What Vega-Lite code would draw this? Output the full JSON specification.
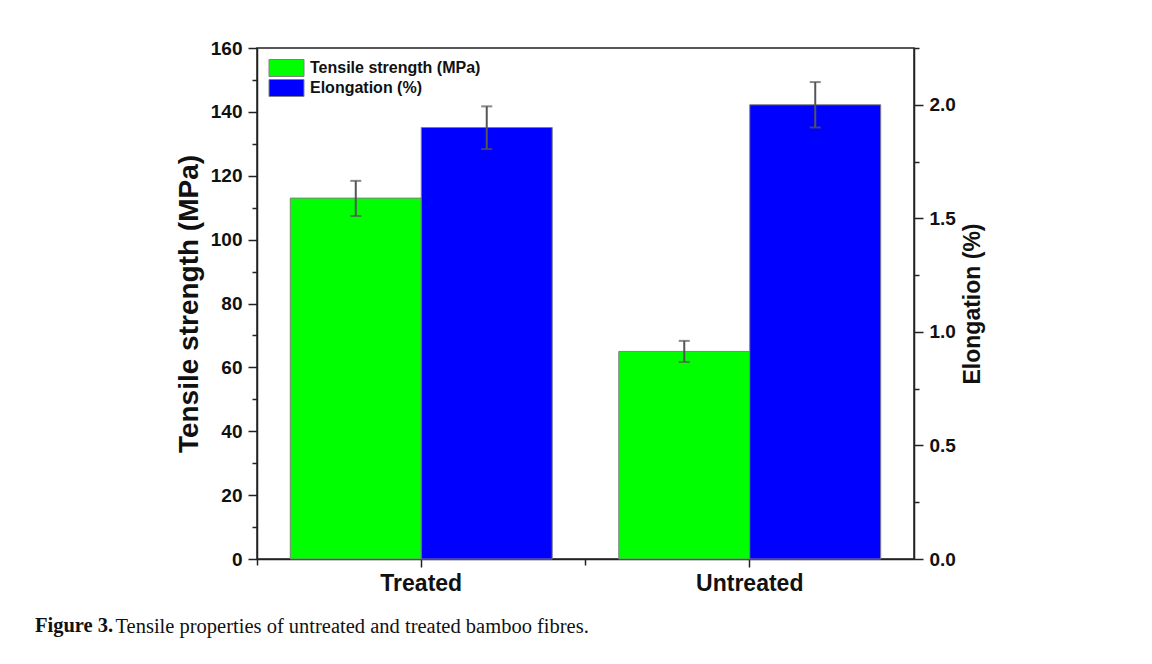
{
  "$schema": "https://vega.github.io/schema/vega-lite/v6.json",
  "width": 657,
  "height": 511,
  "autosize": {"type": "none"},
  "padding": {"left": 257, "top": 48, "right": 238, "bottom": 105},
  "background": "white",
  "config": {
    "view": {"stroke": "#222", "strokeWidth": 1.5},
    "font": "Liberation Sans"
  },
  "title": {
    "text": "Figure 3.",
    "orient": "bottom",
    "anchor": "start",
    "frame": "group",
    "font": "Liberation Serif",
    "fontWeight": "bold",
    "fontSize": 20.5,
    "color": "#111",
    "dx": -222,
    "offset": -5,
    "baseline": "alphabetic"
  },
  "data": {
    "values": [
      {"cat": "Treated", "series": "Tensile strength (MPa)", "value": 113, "lo": 107.4, "hi": 118.4},
      {"cat": "Treated", "series": "Elongation (%)", "value": 1.9, "lo": 1.805, "hi": 1.993},
      {"cat": "Untreated", "series": "Tensile strength (MPa)", "value": 65, "lo": 61.7, "hi": 68.3},
      {"cat": "Untreated", "series": "Elongation (%)", "value": 2.0, "lo": 1.9, "hi": 2.1}
    ]
  },
  "encoding": {
    "x": {
      "field": "cat",
      "type": "nominal",
      "sort": ["Treated", "Untreated"],
      "scale": {"paddingInner": 0, "paddingOuter": 0},
      "axis": {
        "orient": "bottom",
        "labelAngle": 0,
        "labelFont": "Liberation Sans",
        "labelFontWeight": "bold",
        "labelFontSize": 23,
        "labelColor": "#111",
        "labelPadding": 5,
        "tickSize": 8,
        "tickWidth": 1.5,
        "tickColor": "#222",
        "domainColor": "#222",
        "domainWidth": 1.5,
        "grid": false,
        "title": "Tensile properties of untreated and treated bamboo fibres.",
        "titleFont": "Liberation Serif",
        "titleFontWeight": "normal",
        "titleFontSize": 20.5,
        "titleColor": "#111",
        "titleAnchor": "start",
        "titleAlign": "left",
        "titleBaseline": "alphabetic",
        "titleX": -142,
        "titleY": 73
      }
    },
    "xOffset": {
      "field": "series",
      "type": "nominal",
      "scale": {"domain": ["Tensile strength (MPa)", "Elongation (%)"], "paddingInner": 0, "paddingOuter": 0.254}
    }
  },
  "layer": [
    {
      "transform": [{"filter": "datum.series === 'Tensile strength (MPa)'"}],
      "layer": [
        {
          "mark": {"type": "bar", "stroke": "#808080", "strokeWidth": 1},
          "encoding": {
            "y": {
              "field": "value",
              "type": "quantitative",
              "scale": {"domain": [0, 160], "nice": false},
              "axis": {
                "orient": "left",
                "values": [0, 20, 40, 60, 80, 100, 120, 140, 160],
                "tickSize": 9,
                "tickWidth": 1.5,
                "tickColor": "#222",
                "domainColor": "#222",
                "domainWidth": 1.5,
                "labelFont": "Liberation Sans",
                "labelFontWeight": "bold",
                "labelFontSize": 19,
                "labelColor": "#111",
                "labelPadding": 6,
                "title": "Tensile strength (MPa)",
                "titleFont": "Liberation Sans",
                "titleFontWeight": "bold",
                "titleFontSize": 28,
                "titleColor": "#111",
                "titlePadding": 7,
                "grid": false
              }
            },
            "color": {
              "field": "series",
              "type": "nominal",
              "scale": {"domain": ["Tensile strength (MPa)", "Elongation (%)"], "range": ["#00ff00", "#0000ff"]},
              "legend": {
                "orient": "none",
                "legendX": 11.5,
                "legendY": 11,
                "title": null,
                "symbolType": "M-1,-1H3.118V1H-1Z",
                "symbolSize": 289,
                "symbolStrokeColor": "#808080",
                "symbolStrokeWidth": 1,
                "symbolOpacity": 1,
                "labelFont": "Liberation Sans",
                "labelFontWeight": "bold",
                "labelFontSize": 16,
                "labelColor": "#111",
                "labelLimit": 400,
                "labelOffset": 23.5,
                "rowPadding": -2,
                "padding": 0
              }
            }
          }
        },
        {
          "mark": {"type": "rule", "color": "#555", "strokeWidth": 2},
          "encoding": {
            "y": {"field": "lo", "type": "quantitative", "scale": {"domain": [0, 160], "nice": false}},
            "y2": {"field": "hi"}
          }
        },
        {
          "mark": {"type": "tick", "color": "#555", "thickness": 2, "size": 11, "orient": "horizontal"},
          "encoding": {
            "y": {"field": "lo", "type": "quantitative", "scale": {"domain": [0, 160], "nice": false}}
          }
        },
        {
          "mark": {"type": "tick", "color": "#555", "thickness": 2, "size": 11, "orient": "horizontal"},
          "encoding": {
            "y": {"field": "hi", "type": "quantitative", "scale": {"domain": [0, 160], "nice": false}}
          }
        }
      ]
    },
    {
      "transform": [{"filter": "datum.series === 'Elongation (%)'"}],
      "encoding": {
        "x": {"field": "cat", "type": "nominal", "sort": ["Treated", "Untreated"], "axis": null}
      },
      "layer": [
        {
          "mark": {"type": "bar", "stroke": "#808080", "strokeWidth": 1},
          "encoding": {
            "y": {
              "field": "value",
              "type": "quantitative",
              "scale": {"domain": [0, 2.25], "nice": false},
              "axis": {
                "orient": "right",
                "values": [0, 0.5, 1, 1.5, 2],
                "format": ".1f",
                "tickSize": 9,
                "tickWidth": 1.5,
                "tickColor": "#222",
                "domainColor": "#222",
                "domainWidth": 1.5,
                "labelFont": "Liberation Sans",
                "labelFontWeight": "bold",
                "labelFontSize": 19,
                "labelColor": "#111",
                "labelPadding": 6,
                "title": "Elongation (%)",
                "titleFont": "Liberation Sans",
                "titleFontWeight": "bold",
                "titleFontSize": 23,
                "titleColor": "#111",
                "titleAngle": 270,
                "titleBaseline": "top",
                "titlePadding": 6,
                "grid": false
              }
            },
            "color": {
              "field": "series",
              "type": "nominal",
              "scale": {"domain": ["Tensile strength (MPa)", "Elongation (%)"], "range": ["#00ff00", "#0000ff"]}
            }
          }
        },
        {
          "mark": {"type": "rule", "color": "#555", "strokeWidth": 2},
          "encoding": {
            "y": {"field": "lo", "type": "quantitative", "scale": {"domain": [0, 2.25], "nice": false}},
            "y2": {"field": "hi"}
          }
        },
        {
          "mark": {"type": "tick", "color": "#555", "thickness": 2, "size": 11, "orient": "horizontal"},
          "encoding": {
            "y": {"field": "lo", "type": "quantitative", "scale": {"domain": [0, 2.25], "nice": false}}
          }
        },
        {
          "mark": {"type": "tick", "color": "#555", "thickness": 2, "size": 11, "orient": "horizontal"},
          "encoding": {
            "y": {"field": "hi", "type": "quantitative", "scale": {"domain": [0, 2.25], "nice": false}}
          }
        }
      ]
    },
    {
      "mark": {"type": "point", "opacity": 0},
      "encoding": {
        "x": {
          "field": "cat",
          "type": "nominal",
          "sort": ["Treated", "Untreated"],
          "axis": {
            "orient": "bottom",
            "bandPosition": 0,
            "tickSize": 6,
            "tickWidth": 1.5,
            "tickColor": "#222",
            "domain": false,
            "labels": false,
            "title": null,
            "grid": false
          }
        },
        "y": {
          "field": "value",
          "type": "quantitative",
          "scale": {"domain": [0, 160], "nice": false},
          "axis": {
            "orient": "left",
            "values": [10, 30, 50, 70, 90, 110, 130, 150],
            "tickSize": 5,
            "tickWidth": 1.5,
            "tickColor": "#222",
            "domain": false,
            "labels": false,
            "title": null,
            "grid": false
          }
        }
      }
    },
    {
      "mark": {"type": "point", "opacity": 0},
      "encoding": {
        "x": {"field": "cat", "type": "nominal", "sort": ["Treated", "Untreated"], "axis": null},
        "y": {
          "field": "value",
          "type": "quantitative",
          "scale": {"domain": [0, 2.25], "nice": false},
          "axis": {
            "orient": "right",
            "values": [0.25, 0.75, 1.25, 1.75, 2.25],
            "tickSize": 5,
            "tickWidth": 1.5,
            "tickColor": "#222",
            "domain": false,
            "labels": false,
            "title": null,
            "grid": false
          }
        }
      }
    }
  ],
  "resolve": {"scale": {"y": "independent"}, "axis": {"x": "independent"}}
}
